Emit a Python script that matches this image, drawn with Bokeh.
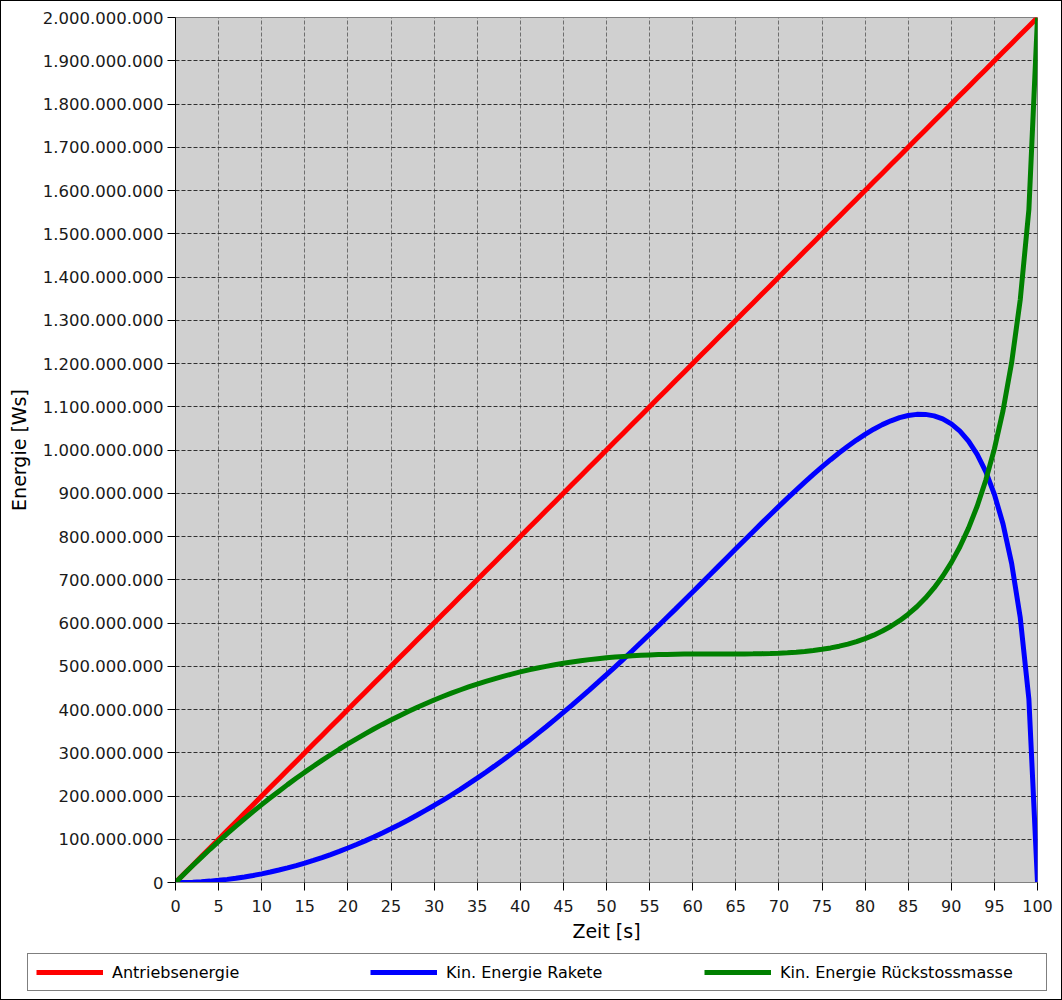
from bokeh.plotting import figure
from bokeh.layouts import column
from bokeh.models import ColumnDataSource, Range1d, FixedTicker, Legend, LegendItem
from bokeh.embed import file_html
from bokeh.resources import INLINE

# Zeit [s]
zeit = list(range(0, 101))

# Energies in millions of Ws
antriebsenergie = [
    0, 20, 40, 60, 80, 100, 120, 140, 160, 180,
    200, 220, 240, 260, 280, 300, 320, 340, 360, 380,
    400, 420, 440, 460, 480, 500, 520, 540, 560, 580,
    600, 620, 640, 660, 680, 700, 720, 740, 760, 780,
    800, 820, 840, 860, 880, 900, 920, 940, 960, 980,
    1000, 1020, 1040, 1060, 1080, 1100, 1120, 1140, 1160, 1180,
    1200, 1220, 1240, 1260, 1280, 1300, 1320, 1340, 1360, 1380,
    1400, 1420, 1440, 1460, 1480, 1500, 1520, 1540, 1560, 1580,
    1600, 1620, 1640, 1660, 1680, 1700, 1720, 1740, 1760, 1780,
    1800, 1820, 1840, 1860, 1880, 1900, 1920, 1940, 1960, 1980,
    2000,
]

kin_rakete = [
    0.0, 0.2, 0.8, 1.8, 3.2, 5.0, 7.2, 9.8, 12.8, 16.2,
    20.0, 24.2, 28.8, 33.7, 39.1, 44.9, 51.1, 57.6, 64.6, 71.9,
    79.7, 87.8, 96.3, 105.2, 114.5, 124.1, 134.2, 144.6, 155.4, 166.6,
    178.1, 190.0, 202.3, 214.9, 227.9, 241.2, 254.9, 269.0, 283.4, 298.1,
    313.1, 328.5, 344.2, 360.2, 376.5, 393.2, 410.1, 427.3, 444.7, 462.5,
    480.5, 498.7, 517.2, 535.9, 554.8, 573.9, 593.1, 612.6, 632.1, 651.9,
    671.7, 691.6, 711.5, 731.5, 751.5, 771.5, 791.4, 811.2, 830.9, 850.4,
    869.7, 888.8, 907.4, 925.8, 943.6, 960.9, 977.6, 993.6, 1008.7, 1023.0,
    1036.1, 1048.1, 1058.6, 1067.5, 1074.7, 1079.7, 1082.4, 1082.3, 1078.9, 1071.9,
    1060.4, 1043.7, 1020.7, 990.0, 949.8, 897.4, 828.9, 737.8, 612.2, 424.2,
    0.0,
]

kin_rueckstoss = [
    0.0, 19.8, 39.2, 58.2, 76.8, 95.0, 112.8, 130.2, 147.2, 163.8,
    180.0, 195.8, 211.2, 226.3, 240.9, 255.1, 268.9, 282.4, 295.4, 308.1,
    320.3, 332.2, 343.7, 354.8, 365.5, 375.9, 385.8, 395.4, 404.6, 413.4,
    421.9, 430.0, 437.7, 445.1, 452.1, 458.8, 465.1, 471.0, 476.6, 481.9,
    486.9, 491.5, 495.8, 499.8, 503.5, 506.8, 509.9, 512.7, 515.3, 517.5,
    519.5, 521.3, 522.8, 524.1, 525.2, 526.1, 526.9, 527.4, 527.9, 528.1,
    528.3, 528.4, 528.5, 528.5, 528.5, 528.5, 528.6, 528.8, 529.1, 529.6,
    530.3, 531.2, 532.6, 534.2, 536.4, 539.1, 542.4, 546.4, 551.3, 557.0,
    563.9, 571.9, 581.4, 592.5, 605.3, 620.3, 637.6, 657.7, 681.1, 708.1,
    739.6, 776.3, 819.3, 870.0, 930.2, 1002.6, 1091.1, 1202.2, 1347.8, 1555.8,
    2000.0,
]

series_names = ["Antriebsenergie", "Kin. Energie Rakete", "Kin. Energie Rückstossmasse"]
series_colors = ["#ff0000", "#0000ff", "#008000"]
series_cols = ["a", "r", "k"]

x_ticks = list(range(0, 101, 5))
y_ticks = [i * 100_000_000 for i in range(21)]
y_labels = [f"{v:,}".replace(",", ".") for v in y_ticks]

MIO = 1_000_000
source = ColumnDataSource(dict(
    t=zeit,
    a=[v * MIO for v in antriebsenergie],
    r=[v * MIO for v in kin_rakete],
    k=[v * MIO for v in kin_rueckstoss],
))

FONT = "DejaVu Sans"
MAIN_H = 950
LEG_H = 998 - MAIN_H

p = figure(
    width=1060, height=MAIN_H,
    output_backend="svg", toolbar_location=None,
    x_range=Range1d(0, 100), y_range=Range1d(0, 2_000_000_000),
    min_border_left=174, min_border_right=24, min_border_top=16,
    min_border_bottom=MAIN_H - 881,
)
p.frame_align = False
p.background_fill_color = "#d0d0d0"
p.border_fill_color = "white"
p.outline_line_color = "#808080"
p.outline_line_width = 1

for col, color in zip(series_cols, series_colors):
    p.line("t", col, source=source, line_color=color, line_width=5)

# Axes
p.xaxis.ticker = FixedTicker(ticks=x_ticks)
p.yaxis.ticker = FixedTicker(ticks=y_ticks)
p.yaxis.major_label_overrides = {v: s for v, s in zip(y_ticks, y_labels)}
p.xaxis.major_label_overrides = {v: str(v) for v in x_ticks}

for ax in (p.xaxis[0], p.yaxis[0]):
    ax.major_tick_in = 0
    ax.major_tick_out = 8
    ax.minor_tick_line_color = None
    ax.major_tick_line_color = "black"
    ax.major_label_text_font = FONT
    ax.major_label_text_color = "#1a1a1a"
    ax.axis_label_text_font = FONT
    ax.axis_label_text_font_style = "normal"
    ax.axis_label_text_font_size = "19px"
    ax.axis_label_text_color = "black"

p.xaxis.major_label_standoff = 9
p.xaxis.axis_label_standoff = 5
p.yaxis.major_label_standoff = 4
p.yaxis.axis_label_standoff = 10

p.xaxis.major_label_text_font_size = "16px"
p.yaxis.major_label_text_font_size = "16.5px"
p.xaxis.axis_label = "Zeit [s]"
p.yaxis.axis_label = "Energie [Ws]"
p.xaxis.axis_line_color = "#808080"
p.yaxis.axis_line_color = "black"

# Grid
p.xgrid.grid_line_color = "#6e6e6e"
p.xgrid.grid_line_dash = "4 2"
p.xgrid.grid_line_width = 1
p.ygrid.grid_line_color = "#303030"
p.ygrid.grid_line_dash = "4 2"
p.ygrid.grid_line_width = 1

# Legend strip under the chart; its renderers use the same series but the
# strip's ranges keep the lines themselves out of view.
pl = figure(
    width=1060, height=LEG_H,
    output_backend="svg", toolbar_location=None,
    x_range=Range1d(-2, -1), y_range=Range1d(-2, -1),
    x_axis_location=None, y_axis_location=None,
    min_border=0, min_border_left=0, min_border_right=0,
    min_border_top=0, min_border_bottom=0,
)
pl.frame_align = False
pl.grid.visible = False
pl.outline_line_color = None
pl.background_fill_color = "white"
pl.border_fill_color = "white"

leg_renderers = []
for col, name, color in zip(series_cols, series_names, series_colors):
    r = pl.line("t", col, source=source, line_color=color, line_width=5)
    leg_renderers.append((name, r))

LEG_TOP = 954 - MAIN_H   # legend box top inside the strip
legend = Legend(
    items=[LegendItem(label=n, renderers=[r]) for n, r in leg_renderers],
    orientation="horizontal",
    location=(26, LEG_H - LEG_TOP - 36),
    glyph_width=67, glyph_height=20,
    label_standoff=9, label_width=258, label_height=20,
    spacing=0, padding=8, margin=0,
    label_text_font=FONT, label_text_font_size="16px", label_text_color="black",
    border_line_color="black", border_line_width=1,
    background_fill_color="white", background_fill_alpha=1.0,
)
pl.add_layout(legend, "center")

layout = column(p, pl, spacing=0)
layout.styles = {"border": "1px solid black"}

open("out.html", "w").write(file_html(layout, INLINE))
